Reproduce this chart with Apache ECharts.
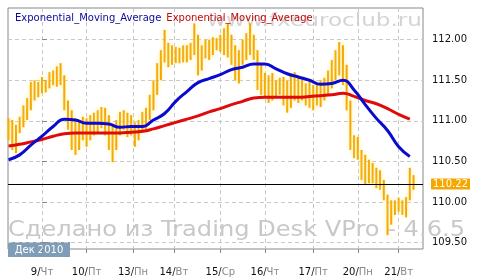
<!DOCTYPE html>
<html>
<head>
<meta charset="utf-8">
<script src="https://cdn.jsdelivr.net/npm/echarts@6/dist/echarts.min.js"></script>
<style>
	html, body { margin: 0; padding: 0; background: #fff; }
	#chart { width: 477px; height: 279px; }
</style>
</head>
<body>
<div id="chart"></div>
<script>
// бары по 2 часа, время в часах от начала 9-го числа
var barStart = -18;
var barStep = 2;
var priceHigh = [
	111.03, 111.01, 110.95, 111.05, 111.19, 111.28, 111.48, 111.50, 111.48, 111.54,
	111.50, 111.60, 111.62, 111.67, 111.71, 111.56, 111.25, 111.13, 111.03, 111.01,
	111.05, 111.03, 111.07, 111.10, 111.13, 111.17, 111.16, 111.07, 110.95, 111.01,
	111.11, 111.13, 111.10, 111.07, 110.98, 111.01, 111.11, 111.16, 111.32, 111.50,
	111.71, 111.87, 112.12, 111.96, 111.93, 111.91, 111.90, 111.93, 111.93, 111.96,
	112.20, 112.06, 111.93, 112.00, 112.00, 112.03, 112.02, 112.06, 112.14, 112.20,
	112.06, 111.93, 111.87, 112.00, 112.08, 112.20, 112.06, 111.87, 111.69, 111.59,
	111.56, 111.59, 111.50, 111.53, 111.54, 111.50, 111.56, 111.60, 111.54, 111.53,
	111.46, 111.48, 111.44, 111.46, 111.50, 111.53, 111.62, 111.75, 111.87, 111.97,
	111.93, 111.69, 111.25, 110.82, 110.80, 110.64, 110.58, 110.52, 110.48, 110.42,
	110.39, 110.27, 110.09, 110.02, 110.02, 110.05, 110.02, 110.06, 110.42, 110.33
];
var priceLow = [
	110.76, 110.64, 110.60, 110.85, 110.92, 111.01, 111.13, 111.25, 111.29, 111.34,
	111.35, 111.40, 111.44, 111.42, 111.44, 111.13, 110.89, 110.64, 110.58, 110.64,
	110.76, 110.68, 110.76, 110.82, 110.85, 110.91, 110.82, 110.64, 110.49, 110.64,
	110.82, 110.89, 110.80, 110.82, 110.68, 110.76, 110.85, 110.89, 111.01, 111.13,
	111.32, 111.50, 111.72, 111.66, 111.69, 111.71, 111.71, 111.72, 111.72, 111.75,
	111.81, 111.56, 111.62, 111.77, 111.75, 111.81, 111.87, 111.85, 111.81, 111.78,
	111.69, 111.50, 111.46, 111.69, 111.75, 111.81, 111.75, 111.38, 111.32, 111.29,
	111.22, 111.25, 111.29, 111.32, 111.19, 111.10, 111.16, 111.25, 111.22, 111.25,
	111.19, 111.16, 111.13, 111.19, 111.17, 111.25, 111.32, 111.40, 111.50, 111.56,
	111.44, 111.13, 110.64, 110.54, 110.52, 110.27, 110.21, 110.23, 110.23, 110.17,
	110.15, 110.02, 109.59, 109.72, 109.84, 109.88, 109.84, 109.81, 110.02, 110.15
];
var lastPrice = 110.22;

// EMA, точки через 6 часов
var emaStart = -18;
var emaStep = 6;
var emaBlue = [
	110.52, 110.58, 110.70, 110.81, 110.93, 111.02, 111.01, 110.97, 110.97, 110.96,
	110.92, 110.93, 110.93, 111.01, 111.09, 111.24, 111.36, 111.47, 111.52, 111.57,
	111.63, 111.66, 111.70, 111.70, 111.64, 111.58, 111.54, 111.50, 111.45, 111.46,
	111.50, 111.38, 111.20, 111.03, 110.88, 110.68, 110.56
];
var emaRed = [
	110.69, 110.71, 110.74, 110.77, 110.81, 110.84, 110.85, 110.85, 110.85, 110.85,
	110.85, 110.86, 110.87, 110.90, 110.94, 110.98, 111.02, 111.06, 111.11, 111.15,
	111.20, 111.24, 111.28, 111.29, 111.29, 111.29, 111.29, 111.30, 111.31, 111.32,
	111.34, 111.30, 111.25, 111.21, 111.15, 111.08, 111.02
];

var dayHours = [0, 24, 49, 71, 96, 120, 146, 170, 192];
var dayNums = ['9', '10', '13', '14', '15', '16', '17', '20', '21'];
var dayNames = ['Чт', 'Пт', 'Пн', 'Вт', 'Ср', 'Чт', 'Пт', 'Пн', 'Вт'];
var yTicks = [109.5, 110, 110.5, 111, 111.5, 112];
var monthLabel = 'Дек 2010';
var emaName = 'Exponential_Moving_Average';

(function () {
	let myChart = echarts.init(document.getElementById('chart'), null, { renderer: 'canvas' });

	let priceData = priceHigh.map(function (h, i) {
		return [barStart + i * barStep, priceLow[i], h];
	});
	let blueData = emaBlue.map(function (v, i) { return [emaStart + i * emaStep, v]; });
	let redData = emaRed.map(function (v, i) { return [emaStart + i * emaStep, v]; });

	// растягиваем водяные знаки по ширине, как в оригинале
	let ctx = document.createElement('canvas').getContext('2d');
	function fitScale(text, font, width) {
		ctx.font = font;
		return width / ctx.measureText(text).width;
	}
	let wm1 = 'www.fxeuroclub.ru';
	let wm1Font = '18px "DejaVu Sans"';
	let wm2 = 'Сделано из Trading Desk VPro - 4.6.5';
	let wm2Font = '21px "DejaVu Sans"';

	let dashed = { color: '#c8c8c8', type: [4, 3], width: 1 };

	let option = {
		animation: false,
		backgroundColor: '#fff',
		title: {
			left: 10,
			top: 4,
			text: '{b|' + emaName + '} {r|' + emaName + '}',
			textStyle: {
				fontWeight: 'normal',
				rich: {
					b: { color: '#0a0a9a', fontSize: 10, fontWeight: 'normal', fontFamily: 'DejaVu Sans' },
					r: { color: '#c00a0a', fontSize: 10, fontWeight: 'normal', fontFamily: 'DejaVu Sans' }
				}
			}
		},
		grid: {
			left: 8,
			right: 54,
			top: 8,
			bottom: 30,
			show: true,
			borderColor: '#888',
			borderWidth: 1
		},
		graphic: [
			{
				type: 'text',
				z: 0,
				x: 207,
				y: 12,
				scaleX: fitScale(wm1, wm1Font, 215),
				style: { text: wm1, font: wm1Font, fill: '#d4d4d4' }
			},
			{
				type: 'text',
				z: 0,
				x: 8,
				y: 220,
				scaleX: fitScale(wm2, wm2Font, 457),
				style: { text: wm2, font: wm2Font, fill: '#c8c8c8' }
			},
			{
				type: 'group',
				x: 8,
				y: 242,
				z: 100,
				children: [
					{ type: 'rect', shape: { x: 0, y: 0, width: 62, height: 15 }, style: { fill: '#7f9db6' } },
					{
						type: 'text',
						x: 31,
						y: 8,
						style: {
							text: monthLabel,
							font: '10px "DejaVu Sans"',
							fill: '#fff',
							align: 'center',
							verticalAlign: 'middle'
						}
					}
				]
			}
		],
		xAxis: {
			type: 'value',
			min: -18.3,
			max: 205.1,
			axisLine: { show: false },
			axisTick: {
				show: true,
				length: 4,
				customValues: dayHours,
				lineStyle: { color: '#888' }
			},
			axisLabel: {
				customValues: dayHours,
				margin: 18,
				formatter: function (v) {
					let i = dayHours.indexOf(v);
					return '{d|' + dayNums[i] + '/}{w|' + dayNames[i] + '}';
				},
				rich: {
					d: { color: '#111', fontSize: 10, fontFamily: 'DejaVu Sans' },
					w: { color: '#888', fontSize: 10, fontFamily: 'DejaVu Sans' }
				}
			},
			splitLine: { show: true, lineStyle: dashed }
		},
		yAxis: {
			type: 'value',
			position: 'right',
			min: 109.42,
			max: 112.39,
			axisLine: { show: false },
			axisTick: {
				show: true,
				length: 5,
				customValues: yTicks,
				lineStyle: { color: '#888' }
			},
			axisLabel: {
				customValues: yTicks,
				margin: 9,
				color: '#111',
				fontSize: 10,
				fontFamily: 'DejaVu Sans',
				formatter: function (v) { return v.toFixed(2); }
			},
			splitLine: { show: true, lineStyle: dashed }
		},
		series: [
			{
				name: 'price',
				type: 'custom',
				encode: { x: 0, y: [1, 2] },
				data: priceData,
				z: 2,
				renderItem: function (params, api) {
					let lo = api.coord([api.value(0), api.value(1)]);
					let hi = api.coord([api.value(0), api.value(2)]);
					return {
						type: 'line',
						shape: { x1: lo[0], y1: lo[1], x2: hi[0], y2: hi[1] },
						style: {
							stroke: '#f5a700',
							fill: null,
							lineWidth: 2,
							shadowBlur: 4,
							shadowColor: 'rgba(255, 235, 140, 1)'
						}
					};
				}
			},
			{
				name: emaName,
				type: 'line',
				data: redData,
				smooth: true,
				showSymbol: false,
				z: 3,
				lineStyle: { color: '#e00a0a', width: 3 }
			},
			{
				name: emaName,
				type: 'line',
				data: blueData,
				smooth: true,
				showSymbol: false,
				z: 4,
				lineStyle: { color: '#0a0ad0', width: 3 },
				markLine: {
					silent: true,
					symbol: 'none',
					lineStyle: { color: '#000', width: 1, type: 'solid' },
					label: {
						position: 'end',
						distance: 8,
						formatter: lastPrice.toFixed(2),
						color: '#fff',
						backgroundColor: '#f5a700',
						padding: [1, 2, 0, 2],
						fontSize: 10,
						fontFamily: 'DejaVu Sans'
					},
					data: [{ yAxis: lastPrice }]
				}
			}
		]
	};
	myChart.setOption(option);
})();
</script>
</body>
</html>
